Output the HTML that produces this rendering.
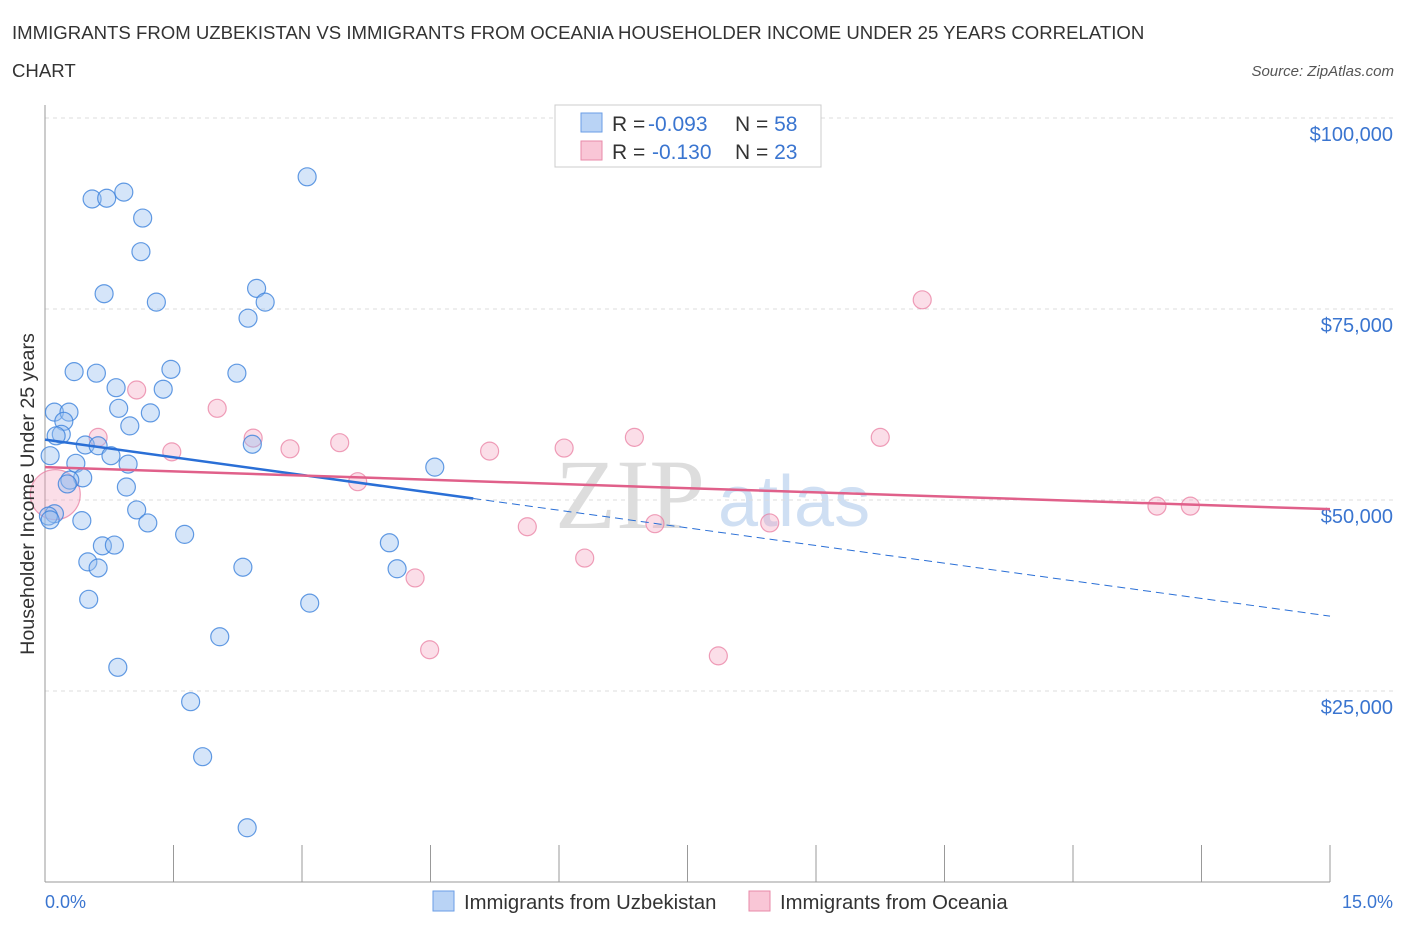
<!DOCTYPE html>
<html><head><meta charset="utf-8"><style>
body{margin:0;background:#fff;font-family:"Liberation Sans",sans-serif;}
svg{display:block}
</style></head><body>
<svg id="chart" width="1406" height="930" xmlns="http://www.w3.org/2000/svg">
<text x="12" y="39" font-size="18.6" fill="#333">IMMIGRANTS FROM UZBEKISTAN VS IMMIGRANTS FROM OCEANIA HOUSEHOLDER INCOME UNDER 25 YEARS CORRELATION</text>
<text x="12" y="77" font-size="18.6" fill="#333">CHART</text>
<text x="1394" y="76" font-size="15" fill="#555" font-style="italic" text-anchor="end">Source: ZipAtlas.com</text>
<text x="555" y="528" font-size="100" fill="#ddd" font-family="Liberation Serif,serif">ZIP</text>
<text x="718" y="526" font-size="72" fill="#cfdff3">atlas</text>
<g id="grid"></g>
<g id="axes"></g>
<g id="marks"></g>
<text transform="translate(34,494) rotate(-90)" font-size="19.7" fill="#333" text-anchor="middle">Householder Income Under 25 years</text>
<text x="45" y="908" font-size="18" fill="#3a75d0">0.0%</text>
<text x="1393" y="908" font-size="18" fill="#3a75d0" text-anchor="end">15.0%</text>
<g>
<rect x="555" y="105" width="266" height="62" fill="#fff" stroke="#ccc"/>
<rect x="581" y="113" width="21" height="19" fill="#b9d3f5" stroke="#6a9ee6"/>
<rect x="581" y="141" width="21" height="19" fill="#f9c6d6" stroke="#e88aa8"/>
<text x="612" y="131" font-size="21" fill="#333">R = <tspan fill="#3a75d0" x="648">-0.093</tspan><tspan x="735">N = </tspan><tspan fill="#3a75d0">58</tspan></text>
<text x="612" y="159" font-size="21" fill="#333">R = <tspan fill="#3a75d0" x="652">-0.130</tspan><tspan x="735">N = </tspan><tspan fill="#3a75d0">23</tspan></text>
</g>
<g>
<rect x="433" y="891" width="21" height="20" fill="#b9d3f5" stroke="#6a9ee6"/>
<text x="464" y="909" font-size="20.3" fill="#333">Immigrants from Uzbekistan</text>
<rect x="749" y="891" width="21" height="20" fill="#f9c6d6" stroke="#e88aa8"/>
<text x="780" y="909" font-size="20.3" fill="#333">Immigrants from Oceania</text>
</g>
</svg>
<script>
const yTicks=[25000,50000,75000,100000];
const yTickLabels=["$25,000","$50,000","$75,000","$100,000"];
const xTicks=[0,1.5,3,4.5,6,7.5,9,10.5,12,13.5,15];
const blueX=[3.06,0.55,0.72,0.92,1.14,1.12,0.69,1.30,2.47,2.57,2.37,0.34,0.60,1.47,2.24,0.83,1.38,0.11,0.28,0.86,1.23,0.22,0.19,0.13,0.99,0.47,0.62,0.06,0.77,2.42,0.36,0.97,4.55,0.44,0.29,0.95,0.26,0.11,0.04,1.07,0.43,1.20,1.63,0.67,0.81,4.02,0.50,0.62,2.31,4.11,0.51,3.09,2.04,0.85,1.70,1.84,2.36,0.06];
const blueY=[92.3,89.4,89.5,90.3,86.9,82.5,77.0,75.9,77.7,75.9,73.8,66.8,66.6,67.1,66.6,64.7,64.5,61.5,61.5,62.0,61.4,60.3,58.6,58.4,59.7,57.2,57.1,55.8,55.8,57.3,54.8,54.7,54.3,52.9,52.6,51.7,52.1,48.2,47.9,48.7,47.3,47.0,45.5,44.0,44.1,44.4,41.9,41.1,41.2,41.0,37.0,36.5,32.1,28.1,23.6,16.4,7.1,47.4];
const pinkX=[10.24,1.07,2.01,0.62,2.43,3.44,1.48,2.86,5.19,6.06,6.88,9.75,3.65,5.63,6.30,7.12,8.46,4.32,4.49,7.86,12.98,13.37,0.12];
const pinkY=[76.2,64.4,62.0,58.2,58.1,57.5,56.3,56.7,56.4,56.8,58.2,58.2,52.4,46.5,42.4,46.9,47.0,39.8,30.4,29.6,49.2,49.2,50.7];
const pinkR=[9,9,9,9,9,9,9,9,9,9,9,9,9,9,9,9,9,9,9,9,9,9,25];
const blueTrend=[57.9,34.8]; const blueSolidEnd=5.0;
const pinkTrend=[54.3,48.8];
const X=v=>45+v*(1285/15);
const Y=k=>882-k*7.64;
const NS="http://www.w3.org/2000/svg";
function mk(t,a,p){const e=document.createElementNS(NS,t);for(const k in a)e.setAttribute(k,a[k]);p.appendChild(e);return e;}
const grid=document.getElementById('grid'),axes=document.getElementById('axes'),marks=document.getElementById('marks');
yTicks.forEach((t,i)=>{
 const l=mk('line',{x1:45,x2:1395,y1:Y(t/1000),y2:Y(t/1000),stroke:'#ddd','stroke-dasharray':'4,4'},grid);
 
 
 const tx=mk('text',{x:1393,y:Y(t/1000)+23,'font-size':20,fill:'#3a75d0','text-anchor':'end'},grid);
 tx.textContent=yTickLabels[i];
 
 
});
const ya=mk('line',{x1:45,x2:45,y1:105,y2:882,stroke:'#999'},axes);


const xa=mk('line',{x1:45,x2:1330,y1:882,y2:882,stroke:'#999'},axes);


xTicks.forEach(t=>{
 const l=mk('line',{x1:X(t),x2:X(t),y1:845,y2:882,stroke:'#999'},axes);
 
 
});
pinkX.forEach((x,i)=>{
 const c=mk('circle',{cx:X(x),cy:Y(pinkY[i]),r:pinkR[i],fill:'rgba(244,160,188,0.35)',stroke:'rgba(232,120,156,0.7)','stroke-width':1.2},marks);
 
 
});
blueX.forEach((x,i)=>{
 const c=mk('circle',{cx:X(x),cy:Y(blueY[i]),r:9,fill:'rgba(150,190,240,0.4)',stroke:'rgba(60,130,220,0.8)','stroke-width':1.2},marks);
 
 
});
const bAt=x=>blueTrend[0]+(blueTrend[1]-blueTrend[0])*x/15;
const t1=mk('line',{x1:X(0),y1:Y(bAt(0)),x2:X(blueSolidEnd),y2:Y(bAt(blueSolidEnd)),stroke:'#2a6fd6','stroke-width':2.5},marks);


const t2=mk('line',{x1:X(blueSolidEnd),y1:Y(bAt(blueSolidEnd)),x2:X(15),y2:Y(bAt(15)),stroke:'#2a6fd6','stroke-width':1,'stroke-dasharray':'8,5'},marks);


const t3=mk('line',{x1:X(0),y1:Y(pinkTrend[0]),x2:X(15),y2:Y(pinkTrend[1]),stroke:'#e0608a','stroke-width':2.5},marks);


</script>
</body></html>
